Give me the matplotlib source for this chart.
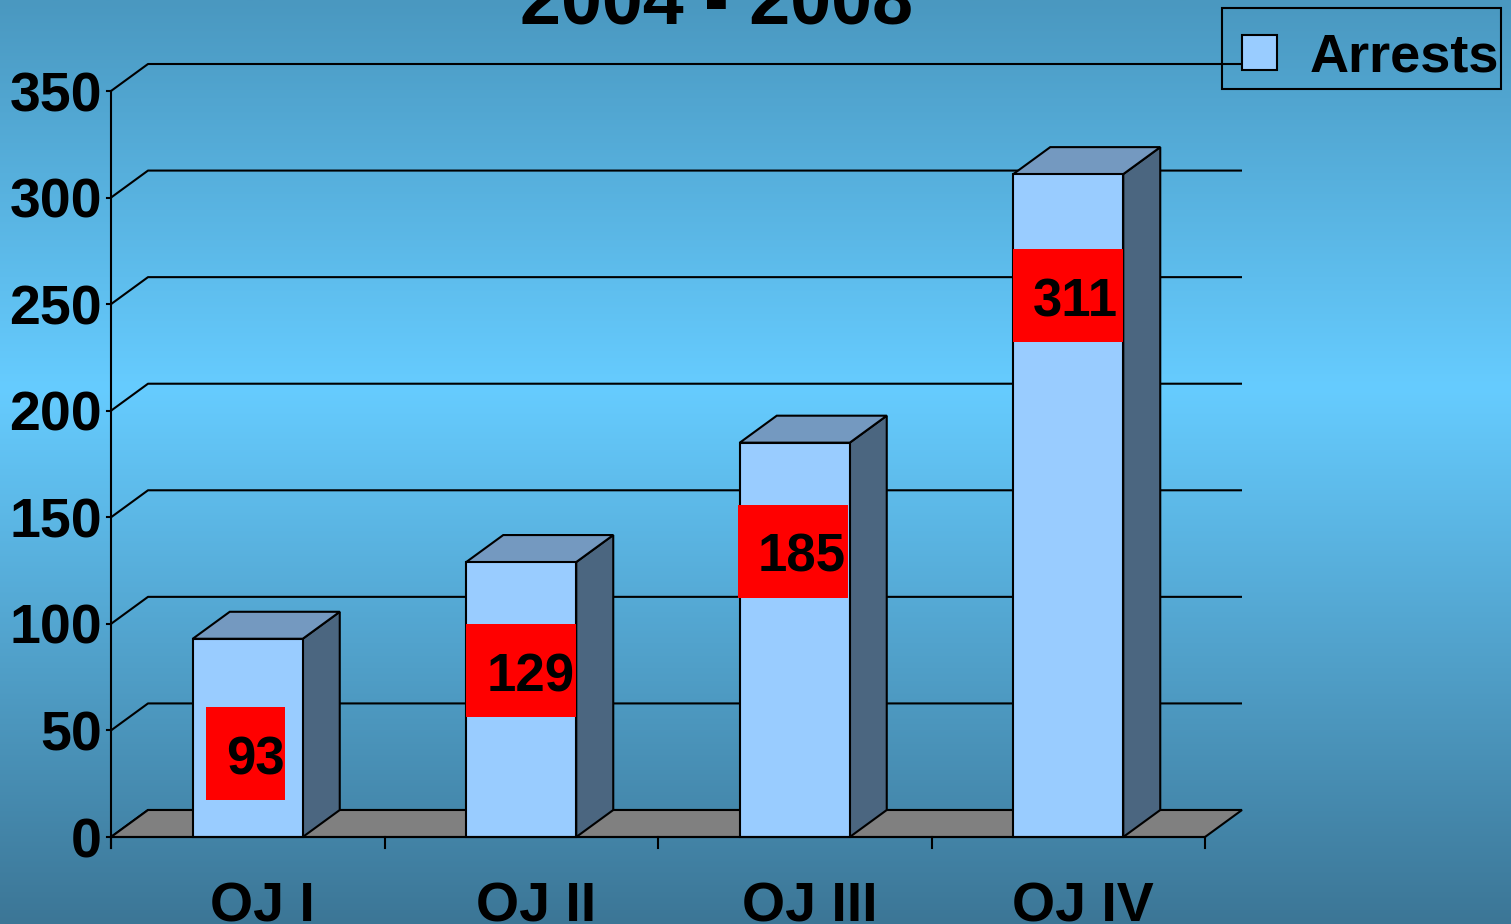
import numpy as np
import matplotlib.pyplot as plt
from matplotlib.patches import Polygon, Rectangle

# data
categories = ["OJ I", "OJ II", "OJ III", "OJ IV"]
arrests = [93, 129, 185, 311]
yticks = [0, 50, 100, 150, 200, 250, 300, 350]
title = "2004 - 2008"
series_name = "Arrests"

# layout (label box centres in value units)
label_y = [39, 78, 134, 254]
label_dx = [-2.5, 0.0, -2.0, 0.0]    # px
label_pad = [0, 1, 2, 5]             # px between text and box right edge

W, H = 1511, 924
fig = plt.figure(figsize=(W / 100, H / 100), dpi=100)

# background gradient
bg = fig.add_axes([0, 0, 1, 1])
stops = np.array([[74, 152, 192], [102, 204, 255], [60, 118, 150]]) / 255.0
pos = [0.0, 0.42, 1.0]
t = np.linspace(0, 1, 400)
grad = np.stack([np.interp(t, pos, stops[:, k]) for k in range(3)], axis=1)
bg.imshow(grad[:, None, :], aspect="auto", extent=[0, 1, 0, 1])
bg.set_axis_off()

# main axes = front plane of the 3d box
X0, X1, Y0, Ytop = 111, 1205, 837, 91
ax = fig.add_axes([X0 / W, 1 - Y0 / H, (X1 - X0) / W, (Y0 - Ytop) / H])
ax.set_xlim(0, 4)
ax.set_ylim(0, 350)
ax.set_axis_off()
ax.patch.set_alpha(0)

ppx = (X1 - X0) / 4.0
ppy = (Y0 - Ytop) / 350.0
dx = 37 / ppx
dy = 27 / ppy
lw = 1.5

# back wall gridlines
for v in yticks:
    ax.plot([0, dx, 4 + dx], [v, v + dy, v + dy], color="black", lw=lw,
            clip_on=False, zorder=1, solid_capstyle="butt")

# floor
ax.add_patch(Polygon([(0, 0), (4, 0), (4 + dx, dy), (dx, dy)], closed=True,
                     facecolor="#808080", edgecolor="black", lw=lw,
                     clip_on=False, zorder=2))

# bars
bw = 110 / ppx
centers = np.arange(len(categories)) + 0.5
front = "#99ccff"
side = "#4b6680"
top = "#7499c0"
for c, v in zip(centers, arrests):
    l, r = c - bw / 2, c + bw / 2
    ax.add_patch(Polygon([(r, 0), (r + dx, dy), (r + dx, v + dy), (r, v)],
                         facecolor=side, edgecolor="black", lw=lw,
                         clip_on=False, zorder=3))
    ax.add_patch(Polygon([(l, v), (l + dx, v + dy), (r + dx, v + dy), (r, v)],
                         facecolor=top, edgecolor="black", lw=lw,
                         clip_on=False, zorder=3))
ax.bar(centers, arrests, width=bw, color=front, edgecolor="black", lw=lw,
       zorder=4, clip_on=False)

# value labels on red boxes
box_h = 93 / ppy
for c, v, ly, ox, pad in zip(centers, arrests, label_y, label_dx, label_pad):
    txt = str(v)
    bwid = (79 if len(txt) == 2 else 110) / ppx
    cx = c + ox / ppx
    ax.add_patch(Rectangle((cx - bwid / 2, ly - box_h / 2), bwid, box_h,
                           facecolor="red", edgecolor="none", zorder=5,
                           clip_on=False))
    ax.text(cx + bwid / 2 - pad / ppx, ly - box_h / 2 + 26 / ppy, txt,
            ha="right", va="baseline", fontsize=38, fontweight="bold",
            family="Liberation Sans", color="black", zorder=6)

# axes lines and ticks
ax.plot([0, 0], [-11 / ppy, 350], color="black", lw=lw, clip_on=False, zorder=7)
ax.plot([0, 4], [0, 0], color="black", lw=lw, clip_on=False, zorder=7)
for i in range(len(categories) + 1):
    ax.plot([i, i], [0, -11 / ppy], color="black", lw=lw, clip_on=False, zorder=7)
for v in yticks:
    ax.plot([-4 / ppx, 0], [v, v], color="black", lw=lw, clip_on=False, zorder=7)
    ax.text(-9 / ppx, v, str(v), ha="right", va="center_baseline", fontsize=40,
            fontweight="bold", family="Liberation Sans")

for c, name in zip(centers, categories):
    ax.text(c + 15 / ppx, -(921 - Y0) / ppy, name, ha="center", va="baseline",
            fontsize=40, fontweight="bold", family="Liberation Sans")

# title (cut off at the top edge)
fig.text(717 / W, 1 - 24 / H, title, ha="center", va="baseline", fontsize=53,
         fontweight="bold", family="Liberation Sans")

# legend
fig.patches.append(Rectangle((1222 / W, 1 - 89 / H), 279 / W, 81 / H,
                             transform=fig.transFigure, facecolor="none",
                             edgecolor="black", lw=lw))
fig.patches.append(Rectangle((1242 / W, 1 - 70 / H), 35 / W, 35 / H,
                             transform=fig.transFigure, facecolor=front,
                             edgecolor="black", lw=lw))
fig.text(1310 / W, 1 - 72 / H, series_name, ha="left", va="baseline",
         fontsize=39, fontweight="bold", family="Liberation Sans")

fig.savefig("out.png", dpi=100)
